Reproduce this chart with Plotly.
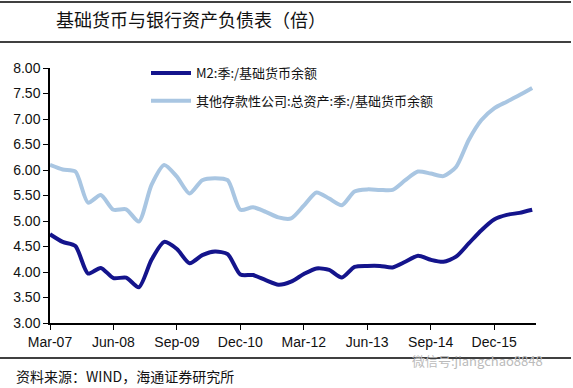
import plotly.graph_objects as go

quarters = ["Mar-07", "Jun-07", "Sep-07", "Dec-07", "Mar-08", "Jun-08", "Sep-08", "Dec-08",
            "Mar-09", "Jun-09", "Sep-09", "Dec-09", "Mar-10", "Jun-10", "Sep-10", "Dec-10",
            "Mar-11", "Jun-11", "Sep-11", "Dec-11", "Mar-12", "Jun-12", "Sep-12", "Dec-12",
            "Mar-13", "Jun-13", "Sep-13", "Dec-13", "Mar-14", "Jun-14", "Sep-14", "Dec-14",
            "Mar-15", "Jun-15", "Sep-15", "Dec-15", "Mar-16", "Jun-16", "Sep-16"]

m2_ratio = [4.74, 4.59, 4.51, 3.97, 4.08, 3.88, 3.89, 3.70, 4.24, 4.59,
            4.45, 4.17, 4.33, 4.40, 4.35, 3.95, 3.94, 3.84, 3.75, 3.81,
            3.96, 4.07, 4.04, 3.89, 4.10, 4.12, 4.12, 4.09, 4.20, 4.32,
            4.24, 4.20, 4.30, 4.56, 4.82, 5.03, 5.12, 5.16, 5.22]

assets_ratio = [6.10, 6.01, 5.97, 5.36, 5.51, 5.22, 5.23, 4.99, 5.71, 6.10,
                5.87, 5.54, 5.80, 5.84, 5.80, 5.22, 5.27, 5.18, 5.07, 5.05,
                5.30, 5.56, 5.44, 5.31, 5.58, 5.62, 5.61, 5.61, 5.80, 5.97,
                5.93, 5.88, 6.06, 6.59, 6.98, 7.21, 7.34, 7.47, 7.61]

series_names = ["M2:季:/基础货币余额", "其他存款性公司:总资产:季:/基础货币余额"]
tick_labels = ["Mar-07", "Jun-08", "Sep-09", "Dec-10", "Mar-12", "Jun-13", "Sep-14", "Dec-15"]
y_ticks = [3.0, 3.5, 4.0, 4.5, 5.0, 5.5, 6.0, 6.5, 7.0, 7.5, 8.0]

title_text = "基础货币与银行资产负债表（倍）"
source_text = "资料来源：WIND，海通证券研究所"
watermark_text = "微信号:jiangchao8848"

CJK = "Noto Sans CJK SC"
LAT = "Arial, Liberation Sans, sans-serif"

fig = go.Figure()
fig.add_trace(go.Scatter(x=quarters, y=m2_ratio, mode="lines", name=series_names[0],
                         legendgroup="a",
                         line=dict(color="#14148c", width=4, shape="spline", smoothing=0.7)))
fig.add_trace(go.Scatter(x=quarters, y=assets_ratio, mode="lines", name=series_names[1],
                         legendgroup="b",
                         line=dict(color="#a9c6e2", width=4, shape="spline", smoothing=0.7)))

W, H = 573, 388
L, R, T, B = 50, 37, 68, 65
pw, ph = W - L - R, H - T - B

def px(x):
    return (x - L) / pw

def py(y):
    return (H - B - y) / ph

shapes = []
for yy in (2, 42, 358):
    shapes.append(dict(type="line", xref="paper", yref="paper",
                       x0=px(0), x1=px(571), y0=py(yy), y1=py(yy),
                       line=dict(color="black", width=1.5)))

annotations = [
    dict(text=title_text, xref="paper", yref="paper", x=px(54), y=py(19),
         xanchor="left", yanchor="middle", showarrow=False,
         font=dict(family=CJK, size=18, color="#111")),
    dict(text=source_text, xref="paper", yref="paper", x=px(14), y=py(376),
         xanchor="left", yanchor="middle", showarrow=False,
         font=dict(family=CJK, size=14, color="#111")),
    dict(text=watermark_text, xref="paper", yref="paper", x=px(410), y=py(360),
         xanchor="left", yanchor="middle", showarrow=False,
         font=dict(family=CJK, size=13, color="#bbbbbb")),
]

fig.update_layout(
    width=W, height=H,
    margin=dict(l=L, r=R, t=T, b=B, pad=0),
    paper_bgcolor="white", plot_bgcolor="white",
    showlegend=True,
    legend=dict(x=px(146), y=py(58), xanchor="left", yanchor="top",
                bgcolor="rgba(0,0,0,0)", tracegroupgap=8,
                font=dict(family=CJK, size=13, color="#111"),
                itemwidth=40),
    shapes=shapes,
    annotations=annotations,
    xaxis=dict(type="category", range=[0, 38.3],
               tickmode="array", tickvals=tick_labels, ticktext=tick_labels,
               showline=True, linecolor="black", linewidth=1.5,
               ticks="outside", ticklen=5, tickcolor="black",
               showgrid=False, zeroline=False,
               tickfont=dict(family=LAT, size=14, color="#111")),
    yaxis=dict(range=[3.0, 8.0], tickmode="array", tickvals=y_ticks,
               tickformat=".2f",
               showline=True, linecolor="black", linewidth=1.5,
               ticks="outside", ticklen=5, tickcolor="black",
               showgrid=False, zeroline=False,
               tickfont=dict(family=LAT, size=14, color="#111")),
)

fig.write_html("out.html",
               config={"displayModeBar": False},
               post_script="document.body.style.margin='0';document.body.style.padding='0';")
